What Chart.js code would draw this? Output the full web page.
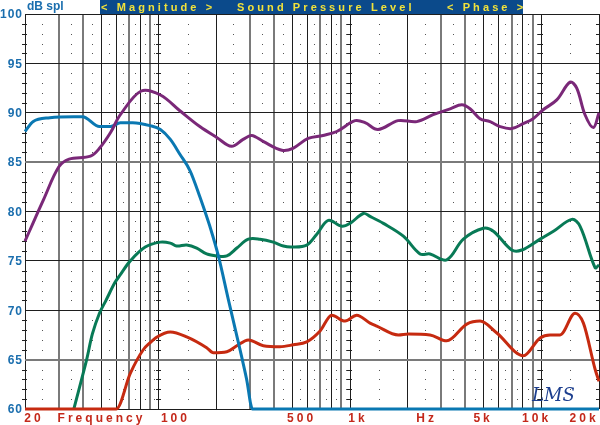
<!DOCTYPE html>
<html>
<head>
<meta charset="utf-8">
<script src="https://cdn.jsdelivr.net/npm/chart.js@4/dist/chart.umd.min.js"></script>
<style>
html,body{margin:0;padding:0;background:#ffffff;}
#c{display:block;}
</style>
</head>
<body>
<canvas id="c" width="600" height="425"></canvas>
<script>
// ---------- data ----------
const purpleFreq = [20, 22, 25, 30, 34, 44, 49, 56, 63, 81, 102, 129, 164, 201, 240, 276, 306, 351, 440, 503, 603, 722, 852, 1062, 1197, 1400, 1782, 2232, 2716, 3334, 3837, 4238, 4778, 5391, 6083, 7000, 8020, 9053, 10210, 12030, 14120, 15300, 16900, 18700, 20000];
const purpleDb   = [77.0, 78.8, 81.2, 84.5, 85.3, 85.6, 86.4, 88.0, 89.8, 92.2, 91.8, 90.2, 88.6, 87.5, 86.6, 87.3, 87.7, 87.1, 86.2, 86.4, 87.4, 87.7, 88.1, 89.2, 89.0, 88.3, 89.2, 89.1, 89.8, 90.4, 90.8, 90.4, 89.4, 89.1, 88.6, 88.4, 88.9, 89.4, 90.3, 91.3, 93.1, 92.5, 89.8, 88.5, 90.0];

const blueFreq = [20, 22, 27, 36, 40, 49, 56, 63, 73, 90, 102, 115, 129, 146, 164, 178, 185, 205, 231, 261, 288, 309, 20000];
const blueDb   = [88.1, 89.1, 89.5, 89.6, 89.6, 88.6, 88.6, 89.0, 89.0, 88.7, 88.3, 87.3, 85.8, 84.1, 81.5, 79.5, 78.5, 75.5, 71.1, 66.7, 63.0, 60.0, 60.0];

const greenFreq = [36, 42, 45, 49, 53, 59, 63, 71, 85, 102, 115, 124, 140, 158, 178, 201, 227, 256, 294, 338, 397, 448, 495, 594, 670, 770, 905, 1000, 1173, 1272, 1493, 1899, 2322, 2618, 3200, 3909, 4974, 5611, 7000, 7900, 9840, 11560, 14420, 15930, 19100, 20000];
const greenDb   = [60.0, 65.0, 67.6, 69.7, 71.0, 72.8, 73.6, 75.0, 76.4, 76.9, 76.8, 76.5, 76.6, 76.3, 75.7, 75.5, 75.5, 76.3, 77.2, 77.2, 76.9, 76.5, 76.4, 76.6, 77.7, 79.1, 78.5, 78.8, 79.8, 79.5, 78.8, 77.5, 75.7, 75.7, 75.1, 77.2, 78.3, 78.0, 76.1, 76.1, 77.2, 78.0, 79.2, 78.5, 74.3, 74.6];

const redFreq = [20, 60, 71, 83, 90, 98, 115, 140, 178, 193, 227, 256, 294, 352, 430, 505, 594, 697, 802, 941, 1083, 1272, 1379, 1788, 2016, 2618, 3200, 4074, 4778, 5848, 8050, 9840, 11100, 12520, 15000, 16580, 19100, 20000];
const redDb   = [60.0, 60.0, 63.6, 66.0, 66.7, 67.3, 67.8, 67.3, 66.2, 65.7, 65.8, 66.4, 67.0, 66.4, 66.3, 66.5, 66.8, 67.9, 69.5, 68.9, 69.5, 68.7, 68.4, 67.5, 67.6, 67.5, 66.9, 68.6, 68.9, 67.7, 65.4, 67.2, 67.5, 67.5, 69.7, 68.7, 64.0, 62.8];

// grid / tick definitions
const gridFreqs = [20,30,40,50,60,70,80,90,100,200,300,400,500,600,700,800,900,1000,2000,3000,4000,5000,6000,7000,8000,9000,10000,20000];
const yTicks = [60, 65, 70, 75, 80, 85, 90, 95, 100];
const yTickLabels = ['60','65','70','75','80','85','90','95','100'];
const xLabelTexts = ['20', 'Frequency', '100', '500', '1k', 'Hz', '5k', '10k', '20k'];
const xLabelAnchorFreqs = [21.9, 49.3, 120, 548, 1081, 2466, 4868, 9270, 16410];
const headerTexts = ['< Magnitude >', 'Sound Pressure Level', '< Phase >'];
const yUnit = 'dB spl';
const signature = 'LMS';

// ---------- helpers ----------
const toPts = (fs, ds) => fs.map((f, i) => ({x: f, y: ds[i]}));
const mant = v => Math.round(v / Math.pow(10, Math.floor(Math.log10(v) + 1e-9)));

const decoPlugin = {
  id: 'deco',
  beforeDatasetsDraw(chart) {
    const ctx = chart.ctx, xs = chart.scales.x, ys = chart.scales.y;
    ctx.save();
    ctx.fillStyle = '#555';
    for (let i = 0; i < gridFreqs.length - 1; i++) {
      const mx = Math.round((xs.getPixelForValue(gridFreqs[i]) + xs.getPixelForValue(gridFreqs[i + 1])) / 2);
      for (let d = 61; d < 100; d++) {
        if (d % 5 === 0) continue;
        const py = Math.round(ys.getPixelForValue(d));
        ctx.fillRect(mx, py, 1, 1);
      }
    }
    ctx.fillStyle = '#222';
    [20, 100, 1000, 10000, 20000].forEach(f => {
      const px = Math.round(xs.getPixelForValue(f));
      for (let d = 61; d < 100; d++) {
        if (d % 5 === 0) continue;
        const py = Math.round(ys.getPixelForValue(d));
        ctx.fillRect(px - 3, py, 5, 1);
      }
    });
    ctx.restore();
  },
  afterDraw(chart) {
    const ctx = chart.ctx, xs = chart.scales.x, ys = chart.scales.y;
    ctx.save();
    // header bar
    ctx.fillStyle = '#0b4a8b';
    ctx.fillRect(100, 0, 423, 14);
    ctx.fillStyle = '#f2e23a';
    ctx.font = 'bold 11px "Liberation Sans", Arial, sans-serif';
    ctx.textBaseline = 'middle';
    ctx.textAlign = 'left';
    ctx.letterSpacing = '3.1px';
    ctx.fillText(headerTexts[0], 101, 7.5);
    ctx.fillText(headerTexts[1], 237, 7.5);
    ctx.fillText(headerTexts[2], 447, 7.5);
    // unit label
    ctx.letterSpacing = '0px';
    ctx.fillStyle = '#1a6eae';
    ctx.font = 'bold 12px "Liberation Sans", Arial, sans-serif';
    ctx.fillText(yUnit, 27, 6.5);
    // y labels
    ctx.textAlign = 'right';
    ctx.letterSpacing = '1px';
    ctx.font = 'bold 12px "Liberation Sans", Arial, sans-serif';
    yTicks.forEach((v, i) => {
      ctx.fillText(yTickLabels[i], 23, ys.getPixelForValue(v) + 1);
    });
    // x labels
    ctx.fillStyle = '#c4281a';
    ctx.textAlign = 'center';
    ctx.letterSpacing = '3px';
    ctx.font = 'bold 12px "Liberation Sans", Arial, sans-serif';
    xLabelTexts.forEach((t, i) => {
      ctx.fillText(t, xs.getPixelForValue(xLabelAnchorFreqs[i]) + 1.5, 419);
    });
    // signature
    ctx.letterSpacing = '0px';
    ctx.fillStyle = '#1d3f8f';
    ctx.font = 'italic 18px "DejaVu Serif", serif';
    ctx.textAlign = 'left';
    ctx.fillText(signature, 532, 396);
    ctx.restore();
  }
};

const mk = (label, pts, color, order, mono) => ({
  label, data: pts, borderColor: color, backgroundColor: color,
  borderWidth: 3, pointRadius: 0, fill: false,
  tension: 0.35,
  cubicInterpolationMode: mono ? 'monotone' : 'default', order, clip: 4
});

new Chart(document.getElementById('c'), {
  type: 'line',
  data: {
    datasets: [
      mk('purple', toPts(purpleFreq, purpleDb), '#7a2878', 0, false),
      mk('blue', toPts(blueFreq, blueDb), '#0a78b2', 1, true),
      mk('red', toPts(redFreq, redDb), '#c62a10', 2, true),
      mk('green', toPts(greenFreq, greenDb), '#087a56', 3, false)
    ]
  },
  options: {
    responsive: false,
    animation: false,
    devicePixelRatio: 1,
    layout: {padding: {left: 25, right: 1, top: 14, bottom: 16}},
    plugins: {legend: {display: false}, tooltip: {enabled: false}},
    scales: {
      x: {
        type: 'logarithmic', min: 20, max: 20000,
        afterBuildTicks: s => { s.ticks = gridFreqs.map(v => ({value: v})); },
        ticks: {display: false},
        border: {display: false},
        grid: {
          drawTicks: false,
          color: c => {
            const m = mant(c.tick.value);
            return (m === 3 || m === 4 || m === 7 || m === 9) ? '#7a7a7a' : '#1e1e1e';
          },
          lineWidth: c => {
            const m = mant(c.tick.value);
            return (m === 3 || m === 4 || m === 7 || m === 9) ? 2 : 1;
          }
        }
      },
      y: {
        type: 'linear', min: 60, max: 100,
        afterBuildTicks: s => { s.ticks = yTicks.map(v => ({value: v})); },
        ticks: {display: false},
        border: {display: false},
        grid: {
          drawTicks: false,
          color: c => (c.tick.value % 10 === 0 || c.tick.value === 75 || c.tick.value === 95) ? '#1e1e1e' : '#7a7a7a',
          lineWidth: c => (c.tick.value % 10 === 0 || c.tick.value === 75 || c.tick.value === 95) ? 1 : 2
        }
      }
    }
  },
  plugins: [decoPlugin]
});
</script>
</body>
</html>
